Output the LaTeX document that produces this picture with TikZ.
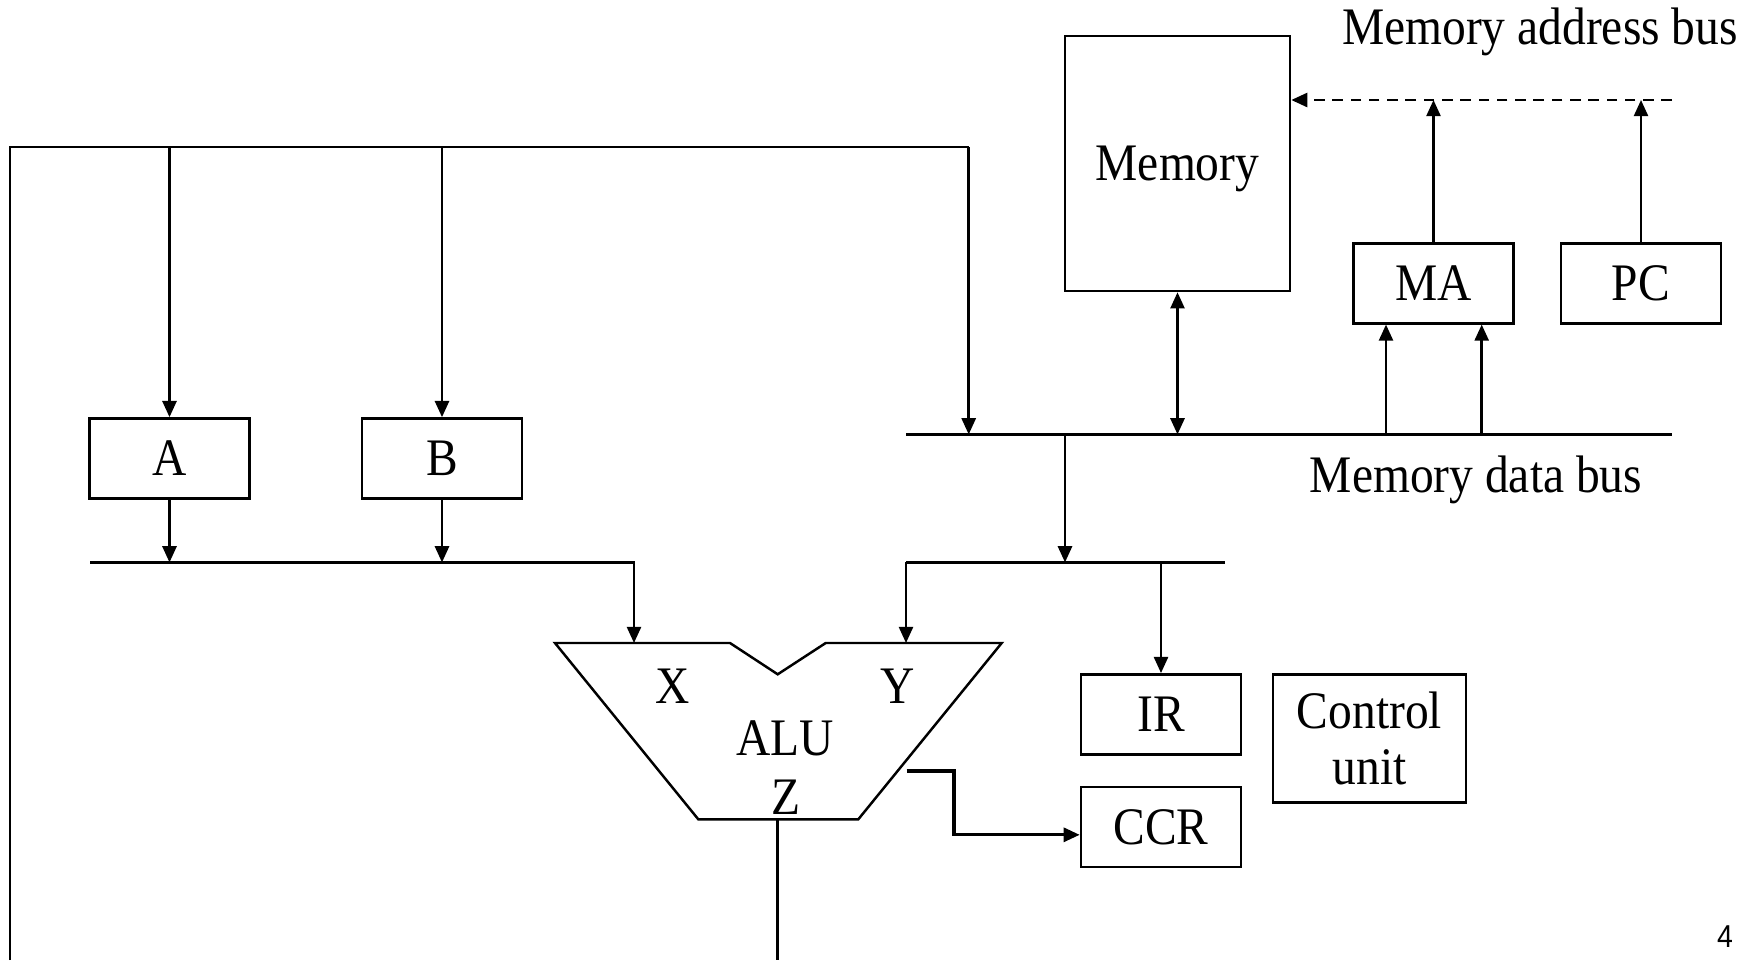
\documentclass[tikz,border=0pt]{standalone}
\usepackage{fontspec}
\setmainfont{Liberation Serif}[FakeStretch=0.9]
\newfontfamily\pagefont{Liberation Sans}[FakeStretch=0.9]
\usepackage{tikz}
\usetikzlibrary{positioning,arrows.meta}
\tikzset{
  reg/.style  = {draw, line width=0.7pt, minimum width=1.6cm, minimum height=0.8cm,
                 inner sep=0pt, font=\fontsize{15}{16}\selectfont},
  mem/.style  = {reg, minimum width=2.25cm, minimum height=2.55cm, text depth=0pt},
  ctl/.style  = {reg, minimum width=1.93cm, minimum height=1.28cm, align=center},
  lbl/.style  = {inner sep=0pt, font=\fontsize{15}{16}\selectfont},
  bus/.style  = {line width=0.7pt},
  a/.style    = {-{Triangle[length=4.6pt,width=4pt]}, line width=0.7pt},
  ab/.style   = {{Triangle[length=4.6pt,width=4pt]}-{Triangle[length=4.6pt,width=4pt]}, line width=0.7pt},
}

\begin{document}
\begin{tikzpicture}[x=0.01cm, y=-0.01cm]
\useasboundingbox (0,0) rectangle (1760,960);

% registers and memory
\node[reg] (A)   at (169.5,458.4) {A};
\node[reg] (B)   at (442,458.4)   {B};
\node[mem] (mem) at (1177.5,163.5) {Memory};
\node[reg] (MA)  at (1433.5,283.3) {MA};
\node[reg] (PC)  at (1641,283.3)  {PC};
\node[reg] (IR)  at (1161,714.3)  {IR};
\node[reg] (CCR) at (1161,826.8)  {CCR};
\node[ctl] (cu)  at (1369.5,738.5) {Control\\unit};

\node[lbl] (mab) at (1540,32)  {Memory address bus};
\node[lbl] (mdb) at (1476,480) {Memory data bus};
\node[inner sep=0pt, font=\pagefont\fontsize{9}{10}\selectfont] (pg) at (1725,937) {4};

% ALU outline with its notch
\coordinate (aluX) at (634,643);
\coordinate (aluY) at (906,643);
\coordinate (aluZ) at (777.7,819.3);
\draw[bus] (555,643) -- (730,643) -- (777.7,674.3) -- (825.7,643) -- (1001.7,643)
  -- (858.3,819.3) -- (698.3,819.3) -- cycle;
\node[lbl] (xin)  at (673,686)   {X};
\node[lbl] (yin)  at (898,686)   {Y};
\node[lbl] (alu)  at (785,738)   {ALU};
\node[lbl] (zout) at (785.5,797) {Z};

% bus ends
\coordinate (tl)  at (10,147);
\coordinate (tr)  at (968.7,147);
\coordinate (dl)  at (906,434.4);
\coordinate (dr)  at (1672,434.4);
\coordinate (ll)  at (90,562.4);
\coordinate (lr)  at (634,562.4);
\coordinate (rl)  at (906,562.4);
\coordinate (rr)  at (1224.6,562.4);
\coordinate (ar)  at (1672,100);
\coordinate (flag) at (906.7,771);

% top bus, loops back from Z
\draw[bus] (10,960) -- (tl) -- (tr);
\draw[a] (A |- tl) -- (A);
\draw[a] (B |- tl) -- (B);
\draw[a] (tr) -- (tr |- dl);
\draw[bus] (aluZ) -- (aluZ |- 0,960);

% memory data bus
\draw[bus] (dl) -- (dr);
\draw[ab] (mem |- dl) -- (mem);
\draw[a] (1386,434.4 |- dl) -- (1386,0 |- MA.south);
\draw[a] (1481.7,434.4 |- dl) -- (1481.7,0 |- MA.south);
\draw[a] (1065,434.4 |- dl) -- (1065,0 |- rl);

% memory address bus
\draw[a, line width=0.8pt, dash pattern=on 3pt off 2.2pt] (ar) -- (mem.east |- ar);
\draw[a] (MA) -- (MA |- ar);
\draw[a] (PC) -- (PC |- ar);

% ALU inputs
\draw[a] (ll) -- (lr) -- (aluX);
\draw[a] (A) -- (A |- ll);
\draw[a] (B) -- (B |- ll);
\draw[bus] (rl) -- (rr);
\draw[a] (rl) -- (aluY);
\draw[a] (IR |- rl) -- (IR);

% condition codes
\draw[a, line width=0.9pt] (flag) -- ++(47.3,0) |- ([yshift=-0.08cm]CCR.west);

\end{tikzpicture}
\end{document}
